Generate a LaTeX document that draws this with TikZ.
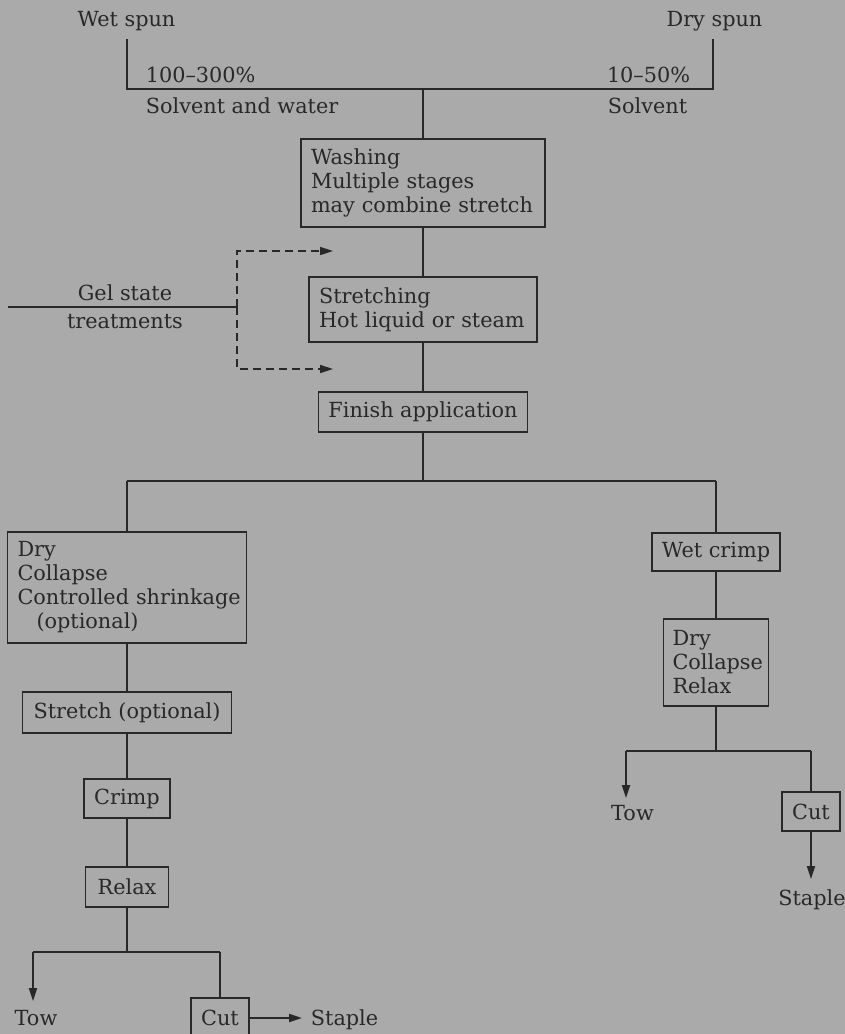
\documentclass[tikz,border=0pt]{standalone}
\usepackage{fontspec}
\setmainfont{DejaVu Serif}
\usetikzlibrary{arrows.meta}
\definecolor{bg}{RGB}{170,170,170}
\definecolor{ink}{RGB}{40,40,40}
\tikzset{
  lbl/.style={font=\fontsize{20.8}{24}\selectfont, inner sep=0pt, text=ink},
  box/.style={lbl, draw=ink, line width=1.8pt, inner xsep=10pt, inner ysep=0pt},
  lbox/.style={box, align=left},
  cbox/.style={box, align=center},
  arr/.style={-{Triangle[length=13pt,width=8pt]}},
  dsh/.style={dash pattern=on 8pt off 5pt, line width=1.6pt},
}
\begin{document}
\begin{tikzpicture}[x=1pt,y=-1pt, line width=1.8pt, color=ink]
\fill[bg] (0,0) rectangle (845,1034);
\useasboundingbox (0,0) rectangle (845,1034);

% top labels
\node[lbl, anchor=base] (wetl) at (126.5,26) {Wet spun};
\node[lbl, anchor=base] (dryl) at (714.5,26) {Dry spun};
\node[lbl, anchor=base west] (p1) at (145,82) {100\textendash 300\%};
\node[lbl, anchor=base east] (p2) at (691,82) {10\textendash 50\%};
\node[lbl, anchor=base west] (s1) at (145,113) {Solvent and water};
\node[lbl, anchor=base west] (s2) at (607,113) {Solvent};

% boxes
\node[lbox, text width=224pt, minimum height=88pt] (wash) at (423,183) {\mbox{Washing}\\\mbox{Multiple stages}\\\mbox{may combine stretch}};
\node[lbox, text width=208pt, minimum height=65pt] (stretch) at (423,309.5) {\mbox{Stretching}\\\mbox{Hot liquid or steam}};
\node[cbox, minimum width=209pt, minimum height=40pt] (finish) at (423,412) {Finish application};

\node[lbox, text width=219pt, minimum height=111pt] (dryL) at (127,587.5) {\mbox{Dry}\\\mbox{Collapse}\\\mbox{Controlled shrinkage}\\\mbox{\hspace*{19pt}(optional)}};
\node[cbox, minimum width=209pt, minimum height=41pt] (sto) at (127,712.5) {Stretch (optional)};
\node[cbox, minimum width=83pt, minimum height=39pt] (crimp) at (127,798.5) {Crimp};
\node[cbox, minimum width=83pt, minimum height=40pt] (relax) at (127,887) {Relax};
\node[cbox, minimum width=55pt, minimum height=40pt] (cutL) at (220,1018) {Cut};

\node[cbox, minimum width=126pt, minimum height=38pt] (wetc) at (716,552) {Wet crimp};
\node[lbox, inner xsep=9pt, text width=87pt, minimum height=87pt] (dryR) at (716,662.5) {\mbox{Dry}\\\mbox{Collapse}\\\mbox{Relax}};
\node[cbox, minimum width=56pt, minimum height=39pt] (cutR) at (811,811.5) {Cut};

% end labels
\node[lbl, anchor=base] (towL) at (36,1025) {Tow};
\node[lbl, anchor=base west] (stapL) at (310,1025) {Staple};
\node[lbl, anchor=base] (towR) at (632.5,820) {Tow};
\node[lbl, anchor=base] (stapR) at (812,905) {Staple};
\node[lbl, anchor=base] (gel1) at (125,300) {Gel state};
\node[lbl, anchor=base] (gel2) at (125,328) {treatments};

% coordinates
\coordinate (bl) at (127,39);
\coordinate (bL) at (127,89);
\coordinate (bR) at (713,89);
\coordinate (br) at (713,39);
\coordinate (j1) at (423,89);
\coordinate (j2) at (423,481);
\coordinate (j2l) at (127,481);
\coordinate (j2r) at (716,481);
\coordinate (j3) at (127,952);
\coordinate (j3l) at (33,952);
\coordinate (j3r) at (220,952);
\coordinate (t3l) at (33,1001);
\coordinate (sL) at (302,1018);
\coordinate (j4) at (716,751);
\coordinate (j4l) at (626,751);
\coordinate (j4r) at (811,751);
\coordinate (t4l) at (626,798);
\coordinate (t4r) at (811,879);
\coordinate (g0) at (8,307);
\coordinate (g1) at (237,307);
\coordinate (a1) at (333,251);
\coordinate (a2) at (333,369);

% connectors
\draw (bl) -- (bL) -- (bR) -- (br);
\draw (j1) -- (wash);
\draw (wash) -- (stretch);
\draw (stretch) -- (finish);
\draw (finish) -- (j2);
\draw (j2l) -- (j2r);
\draw (j2l) -- (dryL);
\draw (j2r) -- (wetc);
\draw (dryL) -- (sto);
\draw (sto) -- (crimp);
\draw (crimp) -- (relax);
\draw (relax) -- (j3);
\draw (j3l) -- (j3r);
\draw[arr] (j3l) -- (t3l);
\draw (j3r) -- (cutL);
\draw[arr] (cutL) -- (sL);
\draw (wetc) -- (dryR);
\draw (dryR) -- (j4);
\draw (j4l) -- (j4r);
\draw[arr] (j4l) -- (t4l);
\draw (j4r) -- (cutR);
\draw[arr] (cutR) -- (t4r);
\draw (g0) -- (g1);
\draw[dsh, arr] (g1) |- (a1);
\draw[dsh, arr] (g1) |- (a2);
\end{tikzpicture}
\end{document}
